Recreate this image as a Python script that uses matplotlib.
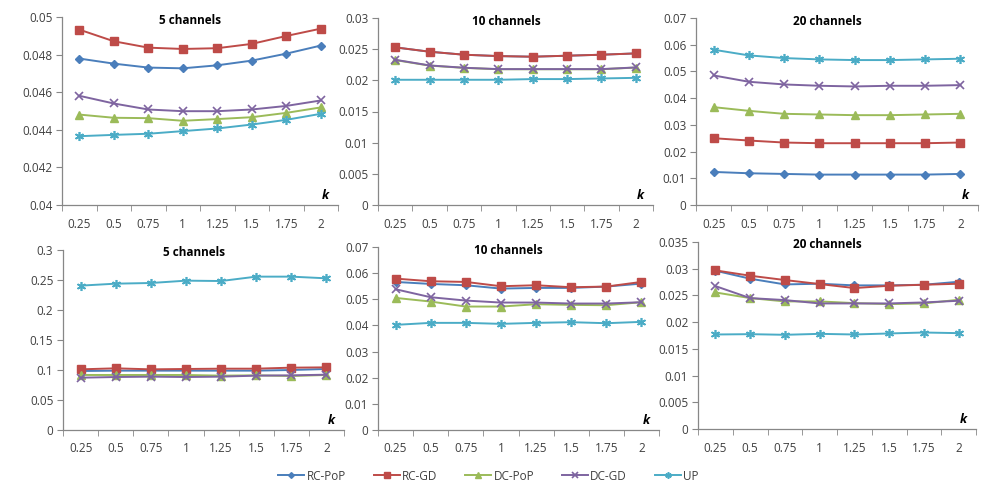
import matplotlib
matplotlib.use("Agg")
import matplotlib.pyplot as plt
from matplotlib.lines import Line2D

plt.rcParams['font.family'] = ['Open Sans', 'DejaVu Sans']

k_labels = ["0.25", "0.5", "0.75", "1", "1.25", "1.5", "1.75", "2"]
series_names = ["RC-PoP", "RC-GD", "DC-PoP", "DC-GD", "UP"]
colors = ["#4A7EBB", "#BE4B48", "#9BBB59", "#7E64A0", "#4BACC6"]

# Top row
t5_rcpop = [0.04779, 0.04752, 0.04731, 0.04727, 0.04743, 0.04768, 0.04805, 0.04848]
t5_rcgd  = [0.04933, 0.04871, 0.04837, 0.04830, 0.04834, 0.04857, 0.04899, 0.04938]
t5_dcpop = [0.04481, 0.04464, 0.04462, 0.04448, 0.04457, 0.04467, 0.04490, 0.04519]
t5_dcgd  = [0.04581, 0.04540, 0.04508, 0.04499, 0.04499, 0.04508, 0.04527, 0.04556]
t5_up    = [0.04366, 0.04373, 0.04379, 0.04393, 0.04407, 0.04428, 0.04453, 0.04485]

t10_rcpop = [0.02529, 0.02459, 0.02411, 0.02389, 0.02379, 0.02395, 0.02411, 0.02432]
t10_rcgd  = [0.02529, 0.02459, 0.02411, 0.02389, 0.02379, 0.02395, 0.02411, 0.02432]
t10_dcpop = [0.02325, 0.02236, 0.02200, 0.02178, 0.02178, 0.02178, 0.02178, 0.02205]
t10_dcgd  = [0.02330, 0.02239, 0.02202, 0.02180, 0.02180, 0.02180, 0.02180, 0.02207]
t10_up    = [0.02009, 0.02009, 0.02009, 0.02009, 0.02020, 0.02020, 0.02030, 0.02040]

t20_rcpop = [0.01238, 0.01188, 0.01163, 0.01138, 0.01138, 0.01138, 0.01138, 0.01163]
t20_rcgd  = [0.02500, 0.02413, 0.02338, 0.02313, 0.02313, 0.02313, 0.02313, 0.02338]
t20_dcpop = [0.03663, 0.03525, 0.03413, 0.03388, 0.03363, 0.03363, 0.03388, 0.03413]
t20_dcgd  = [0.04850, 0.04613, 0.04513, 0.04463, 0.04438, 0.04463, 0.04463, 0.04488]
t20_up    = [0.05813, 0.05600, 0.05500, 0.05450, 0.05425, 0.05425, 0.05450, 0.05475]

# Bottom row
b5_rcpop = [0.0983, 0.0989, 0.0989, 0.0989, 0.0989, 0.0989, 0.1000, 0.1017]
b5_rcgd  = [0.1011, 0.1028, 0.1011, 0.1017, 0.1022, 0.1022, 0.1039, 0.1044]
b5_dcpop = [0.0917, 0.0917, 0.0917, 0.0917, 0.0906, 0.0911, 0.0900, 0.0917]
b5_dcgd  = [0.0872, 0.0883, 0.0889, 0.0883, 0.0889, 0.0906, 0.0911, 0.0922]
b5_up    = [0.2406, 0.2439, 0.2450, 0.2489, 0.2483, 0.2556, 0.2556, 0.2528]

b10_rcpop = [0.05664, 0.05587, 0.05537, 0.05409, 0.05435, 0.05435, 0.05486, 0.05600]
b10_rcgd  = [0.05791, 0.05690, 0.05664, 0.05499, 0.05537, 0.05461, 0.05486, 0.05664]
b10_dcpop = [0.05053, 0.04913, 0.04722, 0.04722, 0.04811, 0.04786, 0.04773, 0.04888]
b10_dcgd  = [0.05384, 0.05079, 0.04951, 0.04875, 0.04875, 0.04837, 0.04837, 0.04888]
b10_up    = [0.04022, 0.04098, 0.04098, 0.04060, 0.04098, 0.04124, 0.04085, 0.04136]

b20_rcpop = [0.02963, 0.02813, 0.02706, 0.02719, 0.02688, 0.02688, 0.02700, 0.02756]
b20_rcgd  = [0.02969, 0.02869, 0.02788, 0.02713, 0.02638, 0.02681, 0.02700, 0.02719]
b20_dcpop = [0.02556, 0.02450, 0.02388, 0.02388, 0.02356, 0.02338, 0.02350, 0.02419]
b20_dcgd  = [0.02675, 0.02450, 0.02413, 0.02350, 0.02350, 0.02350, 0.02369, 0.02400]
b20_up    = [0.01769, 0.01775, 0.01763, 0.01781, 0.01769, 0.01788, 0.01806, 0.01794]

W, H = 983, 496
fig = plt.figure(figsize=(W / 100, H / 100), dpi=100)

markers = [
    dict(marker='D', markersize=4.2),
    dict(marker='s', markersize=5.5),
    dict(marker='^', markersize=5.5),
    dict(marker='x', markersize=5.5, markeredgewidth=1.2),
    dict(marker=(6, 2, 0), markersize=6.5, markeredgewidth=1.2),
]

panels = [
    ("5 channels", [t5_rcpop, t5_rcgd, t5_dcpop, t5_dcgd, t5_up], 0.04, 0.05, 0.002,
     ["0.04", "0.042", "0.044", "0.046", "0.048", "0.05"], (62, 338, 17, 205)),
    ("10 channels", [t10_rcpop, t10_rcgd, t10_dcpop, t10_dcgd, t10_up], 0.0, 0.03, 0.005,
     ["0", "0.005", "0.01", "0.015", "0.02", "0.025", "0.03"], (378, 653, 18, 205)),
    ("20 channels", [t20_rcpop, t20_rcgd, t20_dcpop, t20_dcgd, t20_up], 0.0, 0.07, 0.01,
     ["0", "0.01", "0.02", "0.03", "0.04", "0.05", "0.06", "0.07"], (696, 978, 18, 205)),
    ("5 channels", [b5_rcpop, b5_rcgd, b5_dcpop, b5_dcgd, b5_up], 0.0, 0.3, 0.05,
     ["0", "0.05", "0.1", "0.15", "0.2", "0.25", "0.3"], (63, 344, 250, 430)),
    ("10 channels", [b10_rcpop, b10_rcgd, b10_dcpop, b10_dcgd, b10_up], 0.0, 0.07, 0.01,
     ["0", "0.01", "0.02", "0.03", "0.04", "0.05", "0.06", "0.07"], (378, 659, 247, 430)),
    ("20 channels", [b20_rcpop, b20_rcgd, b20_dcpop, b20_dcgd, b20_up], 0.0, 0.035, 0.005,
     ["0", "0.005", "0.01", "0.015", "0.02", "0.025", "0.03", "0.035"], (698, 976, 242, 429)),
]

axis_color = "#878787"
text_color = "#404040"
x = list(range(len(k_labels)))

for title, data, ymin, ymax, ystep, ylabels, (l, r, t, b) in panels:
    ax = fig.add_axes([l / W, (H - b) / H, (r - l) / W, (b - t) / H])
    for vals, c, mk in zip(data, colors, markers):
        ax.plot(x, vals, color=c, lw=1.4, markerfacecolor=c, markeredgecolor=c, **mk)
    ax.set_xlim(-0.5, len(k_labels) - 0.5)
    ax.set_ylim(ymin, ymax)
    yt = [ymin + i * ystep for i in range(len(ylabels))]
    ax.set_yticks(yt)
    ax.set_yticklabels(ylabels)
    ax.set_xticks(x)
    ax.set_xticklabels(k_labels)
    ax.set_xticks([i - 0.5 for i in range(len(k_labels) + 1)], minor=True)
    ax.tick_params(axis='x', which='major', length=0, pad=9, labelsize=8.5, labelcolor=text_color)
    ax.tick_params(axis='x', which='minor', length=4, color=axis_color, direction='out')
    ax.tick_params(axis='y', which='major', length=4, color=axis_color, direction='out',
                   labelsize=8.5, labelcolor=text_color, pad=3)
    for s in ['top', 'right']:
        ax.spines[s].set_visible(False)
    for s in ['left', 'bottom']:
        ax.spines[s].set_color(axis_color)
        ax.spines[s].set_linewidth(0.9)
    ax.set_facecolor('none')
    ax.text(0.465, 1 - 3.0 / (b - t), title, transform=ax.transAxes, ha='center', va='center',
            fontsize=8.5, fontweight='bold', color='black')
    ax.text(0.955, 0.05, "k", transform=ax.transAxes, ha='center', va='center',
            fontsize=9, fontweight='bold', fontstyle='italic', color='black')

handles = [Line2D([0], [0], color=c, lw=1.4, markerfacecolor=c, markeredgecolor=c,
                  **{**mk, 'markersize': mk['markersize'] * 0.7})
           for c, mk in zip(colors, markers)]
fig.legend(handles, series_names, loc='center', bbox_to_anchor=(0.497, (H - 476) / H), ncol=5,
           frameon=False, fontsize=8.5, handlelength=2.2, handletextpad=0.2, columnspacing=2.35,
           labelcolor=text_color)

fig.savefig("out.png", dpi=100)
